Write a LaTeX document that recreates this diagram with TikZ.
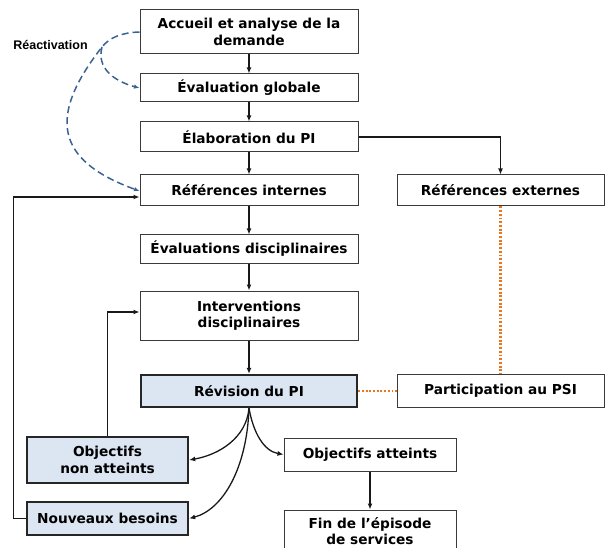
\documentclass[tikz,border=0pt]{standalone}
\usepackage{fontspec}
\setmainfont{DejaVu Sans}
\newfontfamily\labelfont{Liberation Sans}
\usetikzlibrary{arrows.meta,positioning}

\definecolor{boxline}{HTML}{3A3A3A}
\definecolor{boxfill}{HTML}{DCE6F2}
\definecolor{reactblue}{HTML}{3B6292}
\definecolor{linkorange}{HTML}{E8761E}

\begin{document}
\begin{tikzpicture}[x=1pt,y=1pt,
  every node/.style={font=\bfseries\fontsize{13.7}{16.5}\selectfont, align=center, inner sep=0pt},
  stagebox/.style={draw=boxline, line width=1pt, fill=white, minimum width=218pt},
  sidebox/.style={draw=boxline, line width=1pt, fill=white, minimum width=207pt},
  keybox/.style={draw=black!85, line width=2.4pt, fill=boxfill},
  flow/.style={draw=black!90, line width=1.3pt, -{Latex[length=6pt,width=5pt]}},
  react/.style={draw=reactblue, line width=1.5pt, dash pattern=on 7pt off 4pt},
  reacttip/.style={-{Latex[length=5.5pt,width=4.5pt]}},
  partner/.style={draw=linkorange, line width=2.2pt, dash pattern=on 1.9pt off 1.8pt}
]
\useasboundingbox (0,0) rectangle (605,-548);

% main column
\node[stagebox, minimum height=44pt] (acc) at (249,-32) {Accueil et analyse de la\\demande};
\node[stagebox, minimum height=28pt] (evg) at (249,-88) {Évaluation globale};
\node[stagebox, minimum height=30pt] (ela) at (249,-137) {Élaboration du PI};
\node[stagebox, minimum height=31pt] (ri)  at (249,-190.5) {Références internes};
\node[stagebox, minimum height=28pt] (ed)  at (249,-249) {Évaluations disciplinaires};
\node[stagebox, minimum height=49pt] (id)  at (249,-315.5) {Interventions\\disciplinaires};
\node[keybox, minimum width=216pt, minimum height=32pt] (rev) at (249,-391) {Révision du PI};

% right column
\node[sidebox, minimum height=31pt] (re)  at (500.5,-190.5) {Références externes};
\node[sidebox, minimum height=33pt] (psi) at (500.5,-391) {Participation au PSI};

% outcomes
\node[keybox, minimum width=161pt, minimum height=46pt] (ona) at (107.5,-460) {Objectifs\\non atteints};
\node[keybox, minimum width=161pt, minimum height=33pt] (nb)  at (107.5,-518.5) {Nouveaux besoins};
\node[stagebox, minimum width=172pt, minimum height=33pt] (oa) at (370,-454.5) {Objectifs atteints};
\node[stagebox, minimum width=172pt, minimum height=42pt] (fin) at (370,-531) {Fin de l’épisode\\de services};

% reactivation label
\node[font=\labelfont\bfseries\fontsize{12.5}{14}\selectfont] (lab) at (50.5,-45) {Réactivation};

% main flow
\draw[flow] (acc) -- (evg);
\draw[flow] (evg) -- (ela);
\draw[flow] (ela) -- (ri);
\draw[flow] (ri) -- (ed);
\draw[flow] (ed) -- (id);
\draw[flow] (id) -- (rev);
\draw[flow] (ela.east) -| (re.north);
\draw[flow] (oa) -- (fin);

% branches out of the revision
\draw[flow] (rev.south) to[out=-95, in=10, out distance=30pt, in distance=30pt] (ona.east);
\draw[flow] (rev.south) to[out=-92, in=15, out distance=60pt, in distance=35pt] (nb.east);
\draw[flow] (rev.south) to[out=-80, in=170, out distance=25pt, in distance=20pt] (oa.west);

% feedback loops
\draw[flow] (ona.north) |- ([yshift=3.5pt]id.west);
\draw[flow] (nb.west) -- ++(-12,0) |- ([yshift=-6.5pt]ri.west);

% partner links
\draw[partner] (re.south) -- (psi.north);
\draw[partner] (rev.east) -- (psi.west);

% reactivation paths, forking left of the first box
\coordinate (fork) at (102,-47);
\draw[react, reacttip] (acc.west) to[out=182, in=52, out distance=18pt, in distance=12pt] (fork)
  to[out=232, in=160, out distance=88pt, in distance=90pt] ([yshift=-0.5pt]ri.west);
\draw[react, reacttip] (fork) to[out=255, in=165, out distance=22pt, in distance=26pt] (evg.west);
\end{tikzpicture}
\end{document}
